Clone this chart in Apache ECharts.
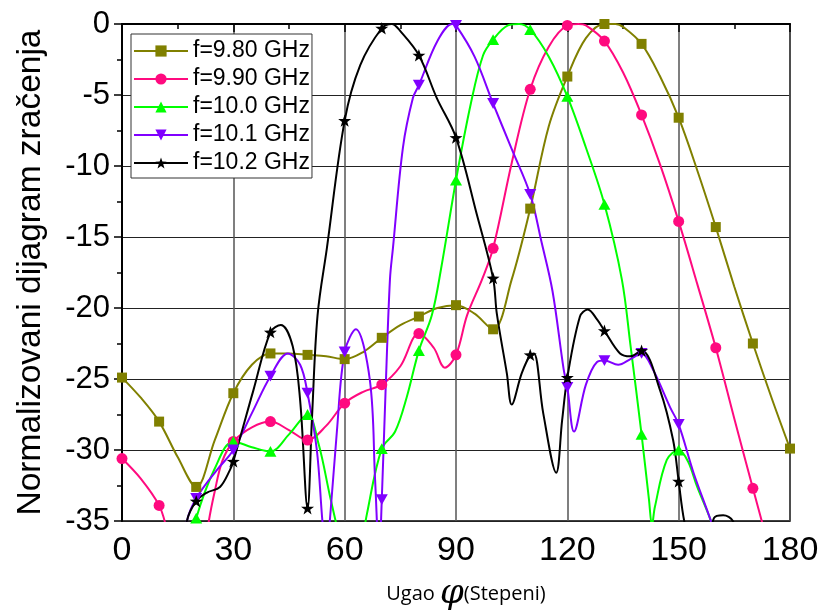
<!DOCTYPE html>
<html><head><meta charset="utf-8">
<script src="https://cdn.jsdelivr.net/npm/echarts@6/dist/echarts.min.js"></script>
<style>html,body{margin:0;padding:0;background:#fff}#c{width:822px;height:614px}</style>
</head><body><div id="c"></div>
<script>
// ---- data (angle in degrees, normalized pattern in dB) ----
const legendNames = ['f=9.80 GHz', 'f=9.90 GHz', 'f=10.0 GHz', 'f=10.1 GHz', 'f=10.2 GHz'];
const xTicks = [0, 30, 60, 90, 120, 150, 180];
const yTicks = [0, -5, -10, -15, -20, -25, -30, -35];

const ang980 = [0,5,10,15,20,25,30,35,40,45,50,55,60,65,70,75,80,85,90,95,100,105,110,115,120,125,130,133,135,140,145,150,155,160,165,170,175,180];
const val980 = [-24.9,-26.3,-28.0,-30.5,-32.6,-29.3,-26.0,-24.0,-23.2,-23.2,-23.3,-23.4,-23.6,-23.1,-22.1,-21.2,-20.6,-20.0,-19.8,-20.4,-21.5,-18.0,-13.0,-7.2,-3.7,-1.0,0,0,-0.2,-1.4,-3.7,-6.6,-10.3,-14.3,-18.5,-22.5,-26.3,-29.9];

const ang990 = [0,5,10,12,15,20,23.4,25,27,30,35,40,45,50,55,60,65,70,75,80,84,87,90,93,97,100,105,110,115,120,123,125,130,135,140,145,150,155,160,165,170,175];
const val990 = [-30.6,-32.0,-33.9,-35.5,-38.5,-41,-35,-32.9,-30.8,-29.4,-28.4,-28.0,-28.6,-29.3,-28.3,-26.7,-25.9,-25.4,-24.1,-21.8,-22.8,-24.2,-23.3,-20.5,-18.0,-15.8,-9.8,-4.6,-1.6,-0.1,0,-0.1,-1.2,-3.4,-6.4,-9.9,-13.9,-18.3,-22.8,-27.8,-32.7,-37.5];

const ang1000 = [15,18,20,25,30,35,40,45,50,53,56,58,62,66,70,73.6,76.7,80,83.5,86,90,94,97.3,100,104,107,110,115,120,125,130,134.7,137,140,142,142.8,143.6,146.8,150,152.5,155,158.7,161];
const val1000 = [-42,-37.5,-34.8,-31.3,-29.4,-29.8,-30.1,-28.9,-27.5,-29.6,-33.2,-35.5,-40,-34.5,-29.9,-28.7,-26.3,-23.0,-20.5,-17.2,-11.0,-5.6,-2.2,-1.1,-0.1,0,-0.4,-2.3,-5.1,-8.7,-12.7,-18.0,-22.6,-28.9,-33.5,-35.3,-34.0,-30.7,-30.0,-30.8,-32.6,-35,-37];

const ang1010 = [15,17.5,20,25.6,30,35,40,44.7,48,50,52.5,54,55,56,57.9,60,63,66.8,68.2,69.3,70,71,72.2,73,75.7,78.4,80,85,89,90,95,100,105,110,113,116,119,120,121.8,125,128,130,133.7,137,140,143,147.7,150,154,158.7,161];
const val1010 = [-39,-35,-33.4,-31.4,-30.0,-27.4,-24.8,-23.2,-24.0,-26.0,-30.0,-35,-37.5,-35,-28.7,-23.1,-21.5,-25.1,-32.1,-37.5,-33.5,-26.0,-18.0,-15.8,-8.7,-5.2,-4.3,-1.2,0,-0.1,-2.3,-5.6,-8.8,-12.0,-15.3,-18.8,-24.3,-25.6,-28.7,-25.4,-23.8,-23.7,-24.0,-23.6,-23.2,-24.3,-27.0,-28.2,-31.6,-35,-37];

const ang1020 = [15,17.5,20,22.9,26.4,29.1,30,35.4,40,42.8,46,48,50,51.2,52.7,55.2,60,64.2,70,72.7,75,80,84.8,90,95.6,100,101,103.7,105,107.7,110,111,113.5,117,118.6,120,123.4,125.5,128,130,134.2,137,140,145,148.5,150,151.5,154,157,159.5,162,164.6,167];
const val1020 = [-40,-35,-33.6,-33.0,-32.6,-31.4,-30.8,-25.8,-21.7,-21.2,-22.7,-26.5,-34.1,-27.7,-20.5,-15.8,-6.8,-2.9,-0.3,0,-0.5,-2.2,-5.2,-8.0,-13.4,-17.9,-20.4,-24.6,-26.8,-24.6,-23.3,-23.2,-27.4,-31.6,-27.9,-24.9,-20.6,-20.1,-20.8,-21.6,-23.2,-23.4,-23.0,-25.8,-29.3,-32.2,-35,-37.5,-37.5,-34.8,-34.6,-35,-37];

// ---- chart ----
const STAR = 'path://M50,0 L61.76,33.82 L97.55,34.55 L69.02,56.18 L79.39,90.45 L50,70 L20.61,90.45 L30.98,56.18 L2.45,34.55 L38.24,33.82 Z';
const TRI_UP = 'path://M5,0 L10,9 L0,9 Z';
const TRI_DOWN = 'path://M0,0 L10,0 L5,9 Z';

const seriesDefs = [
  {name: legendNames[0], ang: ang980, val: val980, color: '#808000', symbol: 'rect', size: 10},
  {name: legendNames[1], ang: ang990, val: val990, color: '#ff0a7f', symbol: 'circle', size: 11},
  {name: legendNames[2], ang: ang1000, val: val1000, color: '#00ff00', symbol: TRI_UP, size: 12},
  {name: legendNames[3], ang: ang1010, val: val1010, color: '#8000ff', symbol: TRI_DOWN, size: 12},
  {name: legendNames[4], ang: ang1020, val: val1020, color: '#000000', symbol: STAR, size: 13}
];

const series = seriesDefs.map(d => ({
  name: d.name,
  type: 'line',
  data: d.ang.map((a, i) => [a, d.val[i]]),
  smooth: 0.35,
  clip: true,
  symbol: d.symbol,
  symbolKeepAspect: true,
  showAllSymbol: true,
  symbolSize: v => (v[0] % 10 === 0 && v[1] >= -35.05) ? d.size : 0,
  lineStyle: {color: d.color, width: 2},
  itemStyle: {color: d.color, borderWidth: 0},
  emphasis: {disabled: true}
}));

const chart = echarts.init(document.getElementById('c'), null, {renderer: 'canvas'});
chart.setOption({
  animation: false,
  backgroundColor: '#fff',
  grid: {left: 122, right: 32, top: 24, bottom: 93, show: true, borderColor: '#000', borderWidth: 1.5,
    backgroundColor: 'transparent', containLabel: false, outerBoundsMode: 'none'},
  legend: {
    orient: 'vertical', left: 131, top: 34,
    itemWidth: 54, itemHeight: 14, itemGap: 4,
    padding: [5, 2, 3, 2],
    borderColor: '#333', borderWidth: 1, backgroundColor: '#fff',
    textStyle: {fontFamily: 'Arial, Liberation Sans', fontSize: 23, color: '#000', lineHeight: 24},
    data: legendNames
  },
  xAxis: {
    type: 'value', min: xTicks[0], max: xTicks[xTicks.length - 1], interval: 30,
    name: '{a|Ugao }{b|φ}{a|(Stepeni)}', nameLocation: 'middle', nameGap: 56,
    nameTextStyle: {padding: [0, 0, 0, 20], rich: {a: {fontFamily: 'Open Sans', fontSize: 20, color: '#000'}, b: {fontFamily: 'DejaVu Serif', fontStyle: 'italic', fontSize: 34, color: '#000'}}},
    axisLine: {lineStyle: {color: '#000', width: 2}},
    axisTick: {inside: false, length: 8, lineStyle: {width: 1.5, color: '#000'}},
    minorTick: {show: true, splitNumber: 2, length: 5, lineStyle: {width: 1.5, color: '#000'}},
    splitLine: {show: true, lineStyle: {color: '#555', width: 1.5}},
    axisLabel: {margin: 13, fontFamily: "'Liberation Sans Narrow', 'Arial Narrow', Arial", fontSize: 34, color: '#000',
      formatter: v => xTicks.includes(v) ? String(v) : ''}
  },
  yAxis: {
    type: 'value', min: yTicks[yTicks.length - 1], max: yTicks[0], interval: 5,
    name: 'Normalizovani dijagram zračenja', nameLocation: 'middle', nameGap: 74,
    nameTextStyle: {fontFamily: 'Arial, Liberation Sans', fontSize: 33.5, color: '#000'},
    axisLine: {lineStyle: {color: '#000', width: 2}},
    axisTick: {inside: false, length: 8, lineStyle: {width: 1.5, color: '#000'}},
    minorTick: {show: true, splitNumber: 2, length: 5, lineStyle: {width: 1.5, color: '#000'}},
    splitLine: {show: true, lineStyle: {color: '#222', width: 1.2}},
    axisLabel: {margin: 12, fontFamily: 'Arial, Liberation Sans', fontSize: 31, color: '#000',
      formatter: v => yTicks.includes(v) ? String(v) : ''}
  },
  series: series
});
</script>
</body></html>
